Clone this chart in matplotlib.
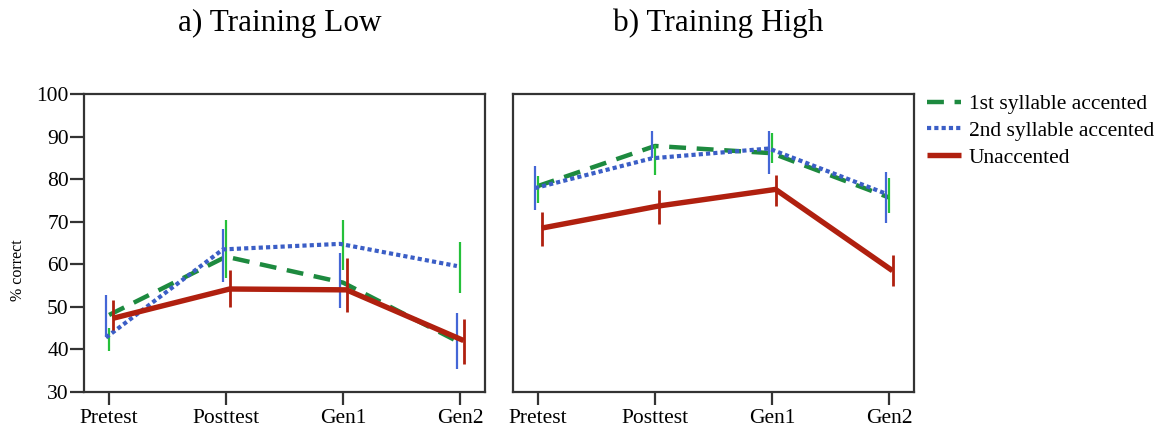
import matplotlib
matplotlib.use('Agg')
import matplotlib.pyplot as plt
import numpy as np

plt.rcParams['font.family'] = ['Liberation Serif', 'DejaVu Serif']

conditions = ['Pretest', 'Posttest', 'Gen1', 'Gen2']
series_names = ['1st syllable accented', '2nd syllable accented', 'Unaccented']

# Training Low: means and error-bar ends (% correct)
first_low = [48.1, 61.8, 55.7, 41.6]
second_low = [42.8, 63.5, 64.8, 59.6]
unacc_low = [47.3, 54.2, 54.0, 42.1]
first_low_lo = [39.7, 56.7, 58.7, 53.3]
first_low_hi = [45.0, 70.4, 70.5, 65.3]
second_low_lo = [43.0, 55.9, 49.7, 35.5]
second_low_hi = [52.8, 68.4, 62.6, 48.6]
unacc_low_lo = [44.6, 49.9, 48.9, 36.5]
unacc_low_hi = [51.6, 58.7, 61.4, 47.1]

# Training High
first_high = [78.4, 87.8, 86.1, 75.7]
second_high = [77.9, 84.9, 87.2, 76.6]
unacc_high = [68.5, 73.7, 77.6, 58.5]
first_high_lo = [74.3, 81.0, 83.7, 72.1]
first_high_hi = [80.7, 88.0, 90.8, 80.2]
second_high_lo = [72.8, 84.9, 81.2, 69.7]
second_high_hi = [83.1, 91.4, 91.3, 81.6]
unacc_high_lo = [64.4, 69.5, 73.7, 54.9]
unacc_high_hi = [72.4, 77.5, 81.0, 62.1]

line_colors = ['#1d8a3f', '#3b5ec6', '#b0200f']
bar_colors = ['#25c03a', '#4466d6', '#b0200f']
offsets = [0.0, -0.027, 0.03]

fig = plt.figure(figsize=(11.61, 4.29), dpi=100)
ax_low = fig.add_axes([0.0724, 0.0862, 0.3454, 0.6946])
ax_high = fig.add_axes([0.4419, 0.0862, 0.3454, 0.6946])

x = np.arange(len(conditions))


def draw_panel(ax, means, lows, highs):
    handles = []
    for i, (m, lo, hi) in enumerate(zip(means, lows, highs)):
        xs = x + offsets[i]
        if i == 0:
            ln, = ax.plot(xs, m, color=line_colors[i], lw=3.2, zorder=3,
                          dashes=(3.8, 2.4), dash_capstyle='butt')
        elif i == 1:
            ln, = ax.plot(xs, m, color=line_colors[i], lw=3.0, zorder=4,
                          dashes=(1.0, 0.75), dash_capstyle='butt')
        else:
            ln, = ax.plot(xs, m, color=line_colors[i], lw=3.9, zorder=5,
                          solid_capstyle='butt')
        ax.vlines(xs, lo, hi, color=bar_colors[i], lw=1.6 if i < 2 else 2.0,
                  zorder=3 + i)
        handles.append(ln)
    ax.set_xlim(-0.214, 3.214)
    ax.set_ylim(30, 100)
    ax.set_xticks(x)
    ax.set_xticklabels(conditions, fontsize=15.5)
    ax.tick_params(axis='x', length=9, width=1.6, pad=3, color='#333333')
    for sp in ax.spines.values():
        sp.set_linewidth(1.6)
        sp.set_color('#333333')
    return handles


handles = draw_panel(ax_low, [first_low, second_low, unacc_low],
                     [first_low_lo, second_low_lo, unacc_low_lo],
                     [first_low_hi, second_low_hi, unacc_low_hi])
draw_panel(ax_high, [first_high, second_high, unacc_high],
           [first_high_lo, second_high_lo, unacc_high_lo],
           [first_high_hi, second_high_hi, unacc_high_hi])

ax_low.set_yticks(range(30, 101, 10))
ax_low.tick_params(axis='y', length=10, width=1.6, pad=1, labelsize=15.5, color='#333333')
ax_high.set_yticks([])

fig.text(18 / 1161, 1 - 270 / 429, '% correct', rotation=90, fontsize=11.5,
         ha='center', va='center')

fig.text(280 / 1161, 1 - 23 / 429, 'a) Training Low', fontsize=22.5,
         ha='center', va='center')
fig.text(718 / 1161, 1 - 23 / 429, 'b) Training High', fontsize=22.5,
         ha='center', va='center')

fig.legend(handles, series_names, loc='upper left',
           bbox_to_anchor=(927 / 1161, 1 - 94 / 429), frameon=False,
           fontsize=15.5, handlelength=1.6, handletextpad=0.35,
           labelspacing=0.32, borderaxespad=0, borderpad=0)

fig.savefig('out.png', dpi=100)
